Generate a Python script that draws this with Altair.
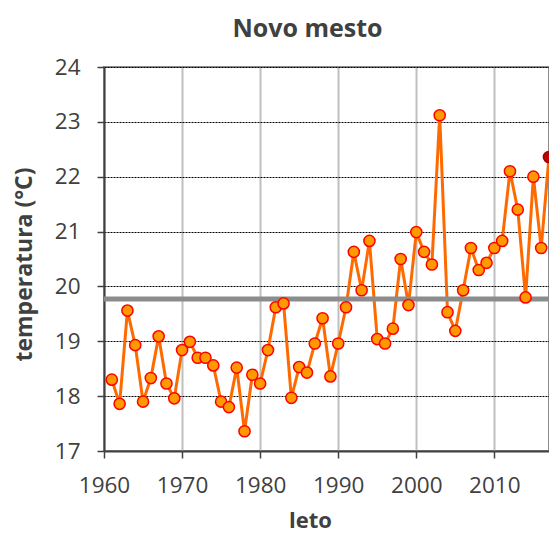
import altair as alt
import pandas as pd

years = list(range(1961, 2018))
temps = [18.30, 17.86, 19.56, 18.93, 17.90, 18.33, 19.09, 18.23, 17.96, 18.84,
         18.99, 18.70, 18.70, 18.56, 17.90, 17.80, 18.52, 17.36, 18.39, 18.23,
         18.84, 19.62, 19.69, 17.97, 18.53, 18.43, 18.96, 19.42, 18.36, 18.96,
         19.62, 20.63, 19.93, 20.83, 19.04, 18.96, 19.23, 20.50, 19.66, 20.99,
         20.63, 20.40, 23.12, 19.53, 19.19, 19.93, 20.70, 20.30, 20.43, 20.70,
         20.83, 22.10, 21.40, 19.80, 22.00, 20.70, 22.36]
mean_level = [19.77]
x_ticks = [1960, 1970, 1980, 1990, 2000, 2010]
y_ticks = [17, 18, 19, 20, 21, 22, 23, 24]
last_year = 2017

df = pd.DataFrame({"leto": years, "temp": temps})
mean_df = pd.DataFrame({"m": mean_level})

FONT = "Open Sans"
TXT = "#404040"

x_enc = alt.X("leto:Q", scale=alt.Scale(domain=[1960, 2017], nice=False, zero=False),
              axis=alt.Axis(values=x_ticks, format="d", title="leto",
                            grid=True, gridColor="#BFBFBF", gridWidth=2,
                            domainColor=TXT, domainWidth=2, tickColor=TXT, tickWidth=1.5,
                            tickSize=7, labelFontSize=22.5, labelFont=FONT, labelColor=TXT,
                            labelPadding=16, labelFlush=False,
                            titleFont=FONT, titleFontSize=22, titleFontWeight="bold",
                            titleColor=TXT, titleX=206, titleY=76,
                            titleBaseline="alphabetic", titleAlign="center"))
y_enc = alt.Y("temp:Q", scale=alt.Scale(domain=[17, 24], nice=False, zero=False),
              axis=alt.Axis(values=y_ticks, format="d", title="temperatura (°C)",
                            grid=True, gridColor="#000000", gridWidth=1, gridDash=[2, 1],
                            domainColor=TXT, domainWidth=2, tickColor=TXT, tickWidth=1.5,
                            tickSize=7, labelFontSize=22.5, labelFont=FONT, labelColor=TXT,
                            labelPadding=17, labelFlush=False,
                            titleFont=FONT, titleFontSize=23, titleFontWeight="bold",
                            titleColor=TXT, titleX=-80, titleY=197, titleAngle=270,
                            titleBaseline="middle", titleAlign="center"))

mean_rule = alt.Chart(mean_df).mark_rule(color="#8C8C8C", strokeWidth=5).encode(y="m:Q")

line = alt.Chart(df).mark_line(color="#FF6A00", strokeWidth=3).encode(x=x_enc, y=y_enc)

pts = alt.Chart(df).transform_filter(alt.datum.leto != last_year).mark_circle(
    size=125, color="#FF9900", opacity=1, stroke="#FF0000", strokeWidth=1.5
).encode(x="leto:Q", y="temp:Q")

last_pt = alt.Chart(df).transform_filter(alt.datum.leto == last_year).mark_circle(
    size=125, color="#C00000", opacity=1, stroke="#990000", strokeWidth=1.5
).encode(x="leto:Q", y="temp:Q")

chart = alt.layer(line, mean_rule, pts, last_pt).properties(
    width=445, height=384,
    autosize=alt.AutoSizeParams(type="none"),
    padding={"left": 96, "top": 59, "right": 0, "bottom": 81},
    title=alt.TitleParams("Novo mesto", font=FONT, fontSize=25, fontWeight="bold",
                          color=TXT, offset=14, dx=-19, anchor="middle"),
).configure_view(stroke="#8C8C8C", strokeWidth=2)

chart.save("out.html", embed_options={"renderer": "svg", "actions": False})
